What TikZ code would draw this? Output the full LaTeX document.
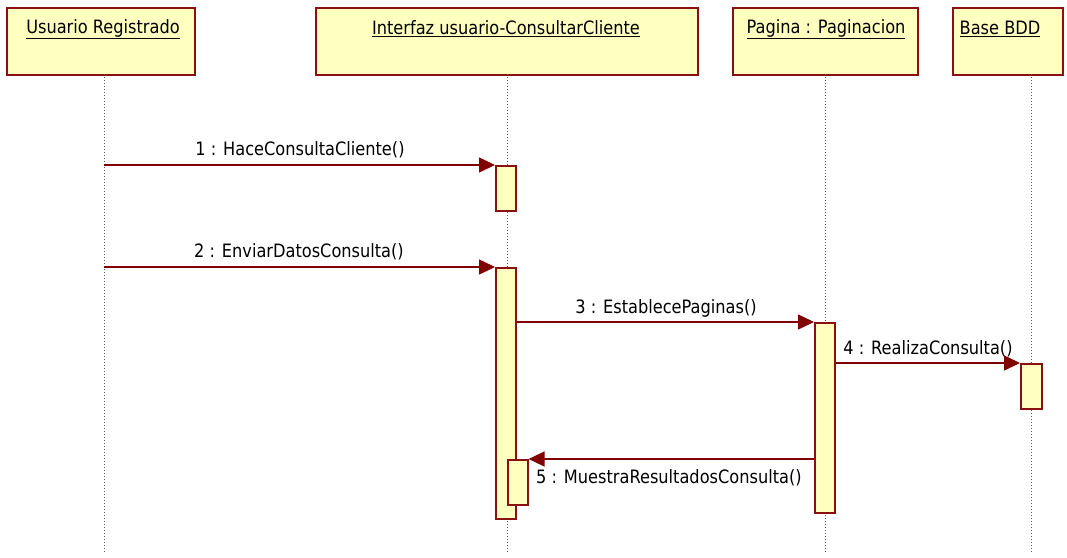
\documentclass[tikz,border=0pt]{standalone}
\usepackage{fontspec}
\setmainfont{DejaVu Sans}[FakeStretch=0.88]
\usetikzlibrary{arrows.meta}
\definecolor{brd}{HTML}{8B1010}
\definecolor{fil}{HTML}{FFFFC0}
\definecolor{arr}{HTML}{800000}
\begin{document}
\begin{tikzpicture}[x=1pt,y=-1pt,
  hdr/.style={draw=brd,fill=fil,line width=2pt,rectangle,inner sep=0pt,anchor=north west},
  hdrtxt/.style={font=\fontsize{18.4}{20}\selectfont,anchor=center,inner sep=0pt},
  act/.style={draw=brd,fill=fil,line width=1.6pt},
  life/.style={draw=gray!70!black,line width=1pt,dash pattern=on 1pt off 2pt},
  msg/.style={draw=arr,line width=1.5pt,-{Triangle[length=16pt,width=15pt]}},
  lbl/.style={font=\fontsize{18.4}{20}\selectfont,inner sep=0pt}]
\useasboundingbox (0,0) rectangle (1067,557);
% header boxes
\node[hdr,minimum width=188pt,minimum height=67pt] (h1) at (6,7) {};
\node[hdr,minimum width=382pt,minimum height=67pt] (h2) at (315,7) {};
\node[hdr,minimum width=185pt,minimum height=67pt] (h3) at (732,7) {};
\node[hdr,minimum width=110pt,minimum height=67pt] (h4) at (952,7) {};
\node[hdrtxt] (t1) at (103,29) {\underline{Usuario Registrado}};
\node[hdrtxt] (t2) at (506,29) {\underline{Interfaz usuario-ConsultarCliente}};
\node[hdrtxt] (t3) at (826,29) {\underline{Pagina : Paginacion}};
\node[hdrtxt] (t4) at (1000,29) {\underline{Base BDD}};
% lifelines
\coordinate (l1t) at (104,74); \coordinate (l1b) at (104,553);
\coordinate (l2t) at (507,74); \coordinate (l2b) at (507,553);
\coordinate (l3t) at (825,74); \coordinate (l3b) at (825,553);
\coordinate (l4t) at (1031,74); \coordinate (l4b) at (1031,553);
\draw[life] (l1t) -- (l1b);
\draw[life] (l2t) -- (l2b);
\draw[life] (l3t) -- (l3b);
\draw[life] (l4t) -- (l4b);
% activations
\node[act,inner sep=0pt,minimum width=20pt,minimum height=45pt,anchor=north west] (a1) at (495,165) {};
\node[act,inner sep=0pt,minimum width=20pt,minimum height=251pt,anchor=north west] (a2) at (495,267) {};
\node[act,inner sep=0pt,minimum width=20pt,minimum height=190pt,anchor=north west] (a3) at (814,322) {};
\node[act,inner sep=0pt,minimum width=21pt,minimum height=45pt,anchor=north west] (a4) at (1020,363) {};
\node[act,inner sep=0pt,minimum width=20pt,minimum height=45pt,anchor=north west] (a5) at (507,459) {};
% messages
\coordinate (m1s) at (104,165);
\coordinate (m2s) at (104,267);
\draw[msg] (m1s) -- (a1.north west);
\draw[msg] (m2s) -- (a2.north west);
\draw[msg] (a2.east |- a3.north west) -- (a3.north west);
\draw[msg] (a3.east |- a4.north west) -- (a4.north west);
\draw[msg] (a3.west |- a5.north east) -- (a5.north east);
% labels
\node[lbl] (n1) at (300,150) {1 : HaceConsultaCliente()};
\node[lbl] (n2) at (299,252) {2 : EnviarDatosConsulta()};
\node[lbl] (n3) at (666,308) {3 : EstablecePaginas()};
\node[lbl] (n4) at (928,349) {4 : RealizaConsulta()};
\node[lbl,anchor=west] (n5) at (536,478) {5 : MuestraResultadosConsulta()};
\end{tikzpicture}
\end{document}
